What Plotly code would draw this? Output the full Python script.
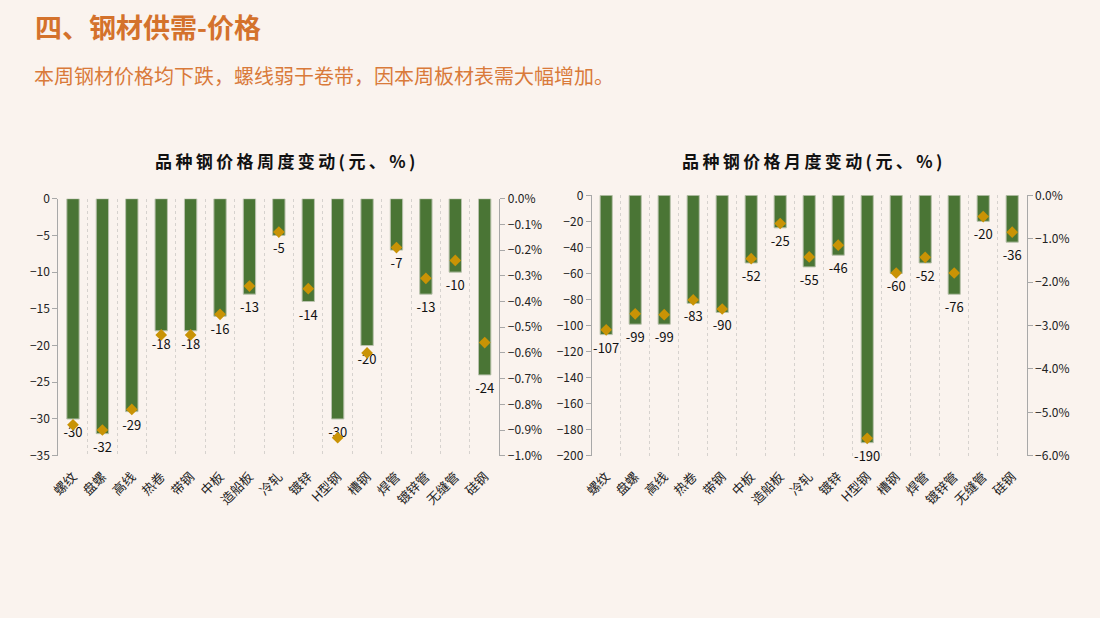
import plotly.graph_objects as go

categories = ["螺纹", "盘螺", "高线", "热卷", "带钢", "中板", "造船板", "冷轧", "镀锌",
              "H型钢", "槽钢", "焊管", "镀锌管", "无缝管", "硅钢"]
weekly_change = [-30, -32, -29, -18, -18, -16, -13, -5, -14, -30, -20, -7, -13, -10, -24]
weekly_pct = [-0.0088, -0.0090, -0.0082, -0.0053, -0.0053, -0.0045, -0.0034, -0.0013, -0.0035,
              -0.0093, -0.0060, -0.0019, -0.0031, -0.0024, -0.0056]
monthly_change = [-107, -99, -99, -83, -90, -52, -25, -55, -46, -190, -60, -52, -76, -20, -36]
monthly_pct = [-0.0310, -0.0273, -0.0275, -0.0241, -0.0262, -0.0146, -0.0065, -0.0142, -0.0115,
               -0.0560, -0.0179, -0.0143, -0.0179, -0.0049, -0.0085]

W, H = 1100, 618
BG = "#faf3ee"
GREEN = "#4a7535"
GOLD = "#c99305"
FONT = "Noto Sans CJK SC"

def px_x(a, b):
    return [a / W, b / W]

def px_y(top, bottom):
    return [1 - bottom / H, 1 - top / H]

def spaced(s):
    return "\u2009".join(s)

fig = go.Figure()

def bar(vals, xa, ya):
    return go.Bar(x=categories, y=vals, xaxis=xa, yaxis=ya,
                  marker=dict(color=GREEN, line=dict(color="#b9c2ad", width=1)),
                  text=[str(v) for v in vals], textposition="outside",
                  textfont=dict(size=13, color="#111", family=FONT),
                  constraintext="none", textangle=0,
                  cliponaxis=False, width=0.42, showlegend=False)

def diamonds(vals, xa, ya):
    return go.Scatter(x=categories, y=vals, xaxis=xa, yaxis=ya, mode="markers",
                      marker=dict(symbol="diamond", size=9, color=GOLD),
                      showlegend=False, cliponaxis=False)

fig.add_trace(bar(weekly_change, "x", "y"))
fig.add_trace(diamonds(weekly_pct, "x", "y3"))
fig.add_trace(bar(monthly_change, "x2", "y2"))
fig.add_trace(diamonds(monthly_pct, "x2", "y4"))

xrange = [-0.5, len(categories) - 0.5]
xcommon = dict(type="category", range=xrange, tickson="boundaries", showgrid=True,
               gridcolor="#d6d2ce", griddash="dot", gridwidth=1, tickangle=-45,
               showline=False, ticks="", ticklabelstandoff=10,
               tickfont=dict(size=13, color="#222", family=FONT), zeroline=False,
               automargin=False)
ycommon = dict(showgrid=False, showline=True, linecolor="#a8a8a8", linewidth=1, ticks="outside",
               ticklen=5, tickcolor="#a8a8a8", tickfont=dict(size=12, color="#222", family=FONT),
               zeroline=False, automargin=False)

fig.update_layout(
    width=W, height=H, margin=dict(l=0, r=0, t=0, b=0, pad=0, autoexpand=False),
    paper_bgcolor=BG, plot_bgcolor=BG,
    font=dict(family=FONT),
    xaxis=dict(domain=px_x(58.3, 499.4), anchor="y", **xcommon),
    xaxis2=dict(domain=px_x(591.7, 1026.7), anchor="y2", **xcommon),
    yaxis=dict(domain=px_y(198.7, 455.7), anchor="x", range=[-35, 0], dtick=5, **ycommon),
    yaxis2=dict(domain=px_y(195.3, 455.7), anchor="x2", range=[-200, 0], dtick=20, **ycommon),
    yaxis3=dict(overlaying="y", anchor="x", side="right", range=[-0.01, 0], dtick=0.001,
                tickformat=".1%", **ycommon),
    yaxis4=dict(overlaying="y2", anchor="x2", side="right", range=[-0.06, 0], dtick=0.01,
                tickformat=".1%", **ycommon),
)

fig.add_annotation(x=33 / W, y=1 - 26 / H, xref="paper", yref="paper", xanchor="left",
                   yanchor="middle", showarrow=False, text="<b>四、钢材供需-价格</b>",
                   font=dict(size=27, color="#d4722c", family=FONT))
fig.add_annotation(x=32 / W, y=1 - 76 / H, xref="paper", yref="paper", xanchor="left",
                   yanchor="middle", showarrow=False,
                   text="本周钢材价格均下跌，螺线弱于卷带，因本周板材表需大幅增加。",
                   font=dict(size=20, color="#d97a3a", family=FONT))
fig.add_annotation(x=285 / W, y=1 - 160 / H, xref="paper", yref="paper", xanchor="center",
                   yanchor="middle", showarrow=False,
                   text="<b>" + spaced("品种钢价格周度变动(元、%)") + "</b>",
                   font=dict(size=17, color="#111", family=FONT))
fig.add_annotation(x=812 / W, y=1 - 160 / H, xref="paper", yref="paper", xanchor="center",
                   yanchor="middle", showarrow=False,
                   text="<b>" + spaced("品种钢价格月度变动(元、%)") + "</b>",
                   font=dict(size=17, color="#111", family=FONT))

fig.write_html("out.html")
